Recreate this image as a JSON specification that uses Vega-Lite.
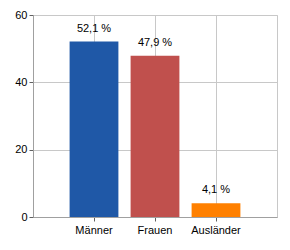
{
  "$schema": "https://vega.github.io/schema/vega-lite/v6.json",
  "autosize": {"type": "none"},
  "padding": {"left": 33, "top": 15, "right": 13, "bottom": 33},
  "width": 244,
  "height": 202,
  "background": "white",
  "data": {
    "values": [
      {"gruppe": "Männer", "anteil": 52.1, "label": "52,1 %"},
      {"gruppe": "Frauen", "anteil": 47.9, "label": "47,9 %"},
      {"gruppe": "Ausländer", "anteil": 4.1, "label": "4,1 %"}
    ]
  },
  "encoding": {
    "x": {
      "field": "gruppe",
      "type": "nominal",
      "sort": null,
      "scale": {"paddingInner": 0.2, "paddingOuter": 0.6},
      "axis": {"title": null, "labelAngle": 0, "grid": true, "gridColor": "#c8c8c8", "tickSize": 4, "labelPadding": 3}
    },
    "y": {
      "field": "anteil",
      "type": "quantitative",
      "scale": {"domain": [0, 60], "nice": false},
      "axis": {"title": null, "values": [0, 20, 40, 60], "grid": true, "gridColor": "#c8c8c8", "tickSize": 4, "labelPadding": 2}
    }
  },
  "layer": [
    {
      "mark": {"type": "bar"},
      "encoding": {
        "color": {
          "field": "gruppe",
          "type": "nominal",
          "scale": {"domain": ["Männer", "Frauen", "Ausländer"], "range": ["#1F58A7", "#C0504D", "#FF8000"]},
          "legend": null
        }
      }
    },
    {
      "mark": {"type": "text", "baseline": "bottom", "dy": -8, "font": "Liberation Sans", "fontSize": 11, "color": "black"},
      "encoding": {"text": {"field": "label"}}
    }
  ],
  "config": {
    "view": {"stroke": "#c8c8c8"},
    "axis": {
      "labelFont": "Liberation Sans",
      "labelFontSize": 11,
      "labelColor": "black",
      "domainColor": "#a0a0a0",
      "tickColor": "#606060"
    }
  }
}
